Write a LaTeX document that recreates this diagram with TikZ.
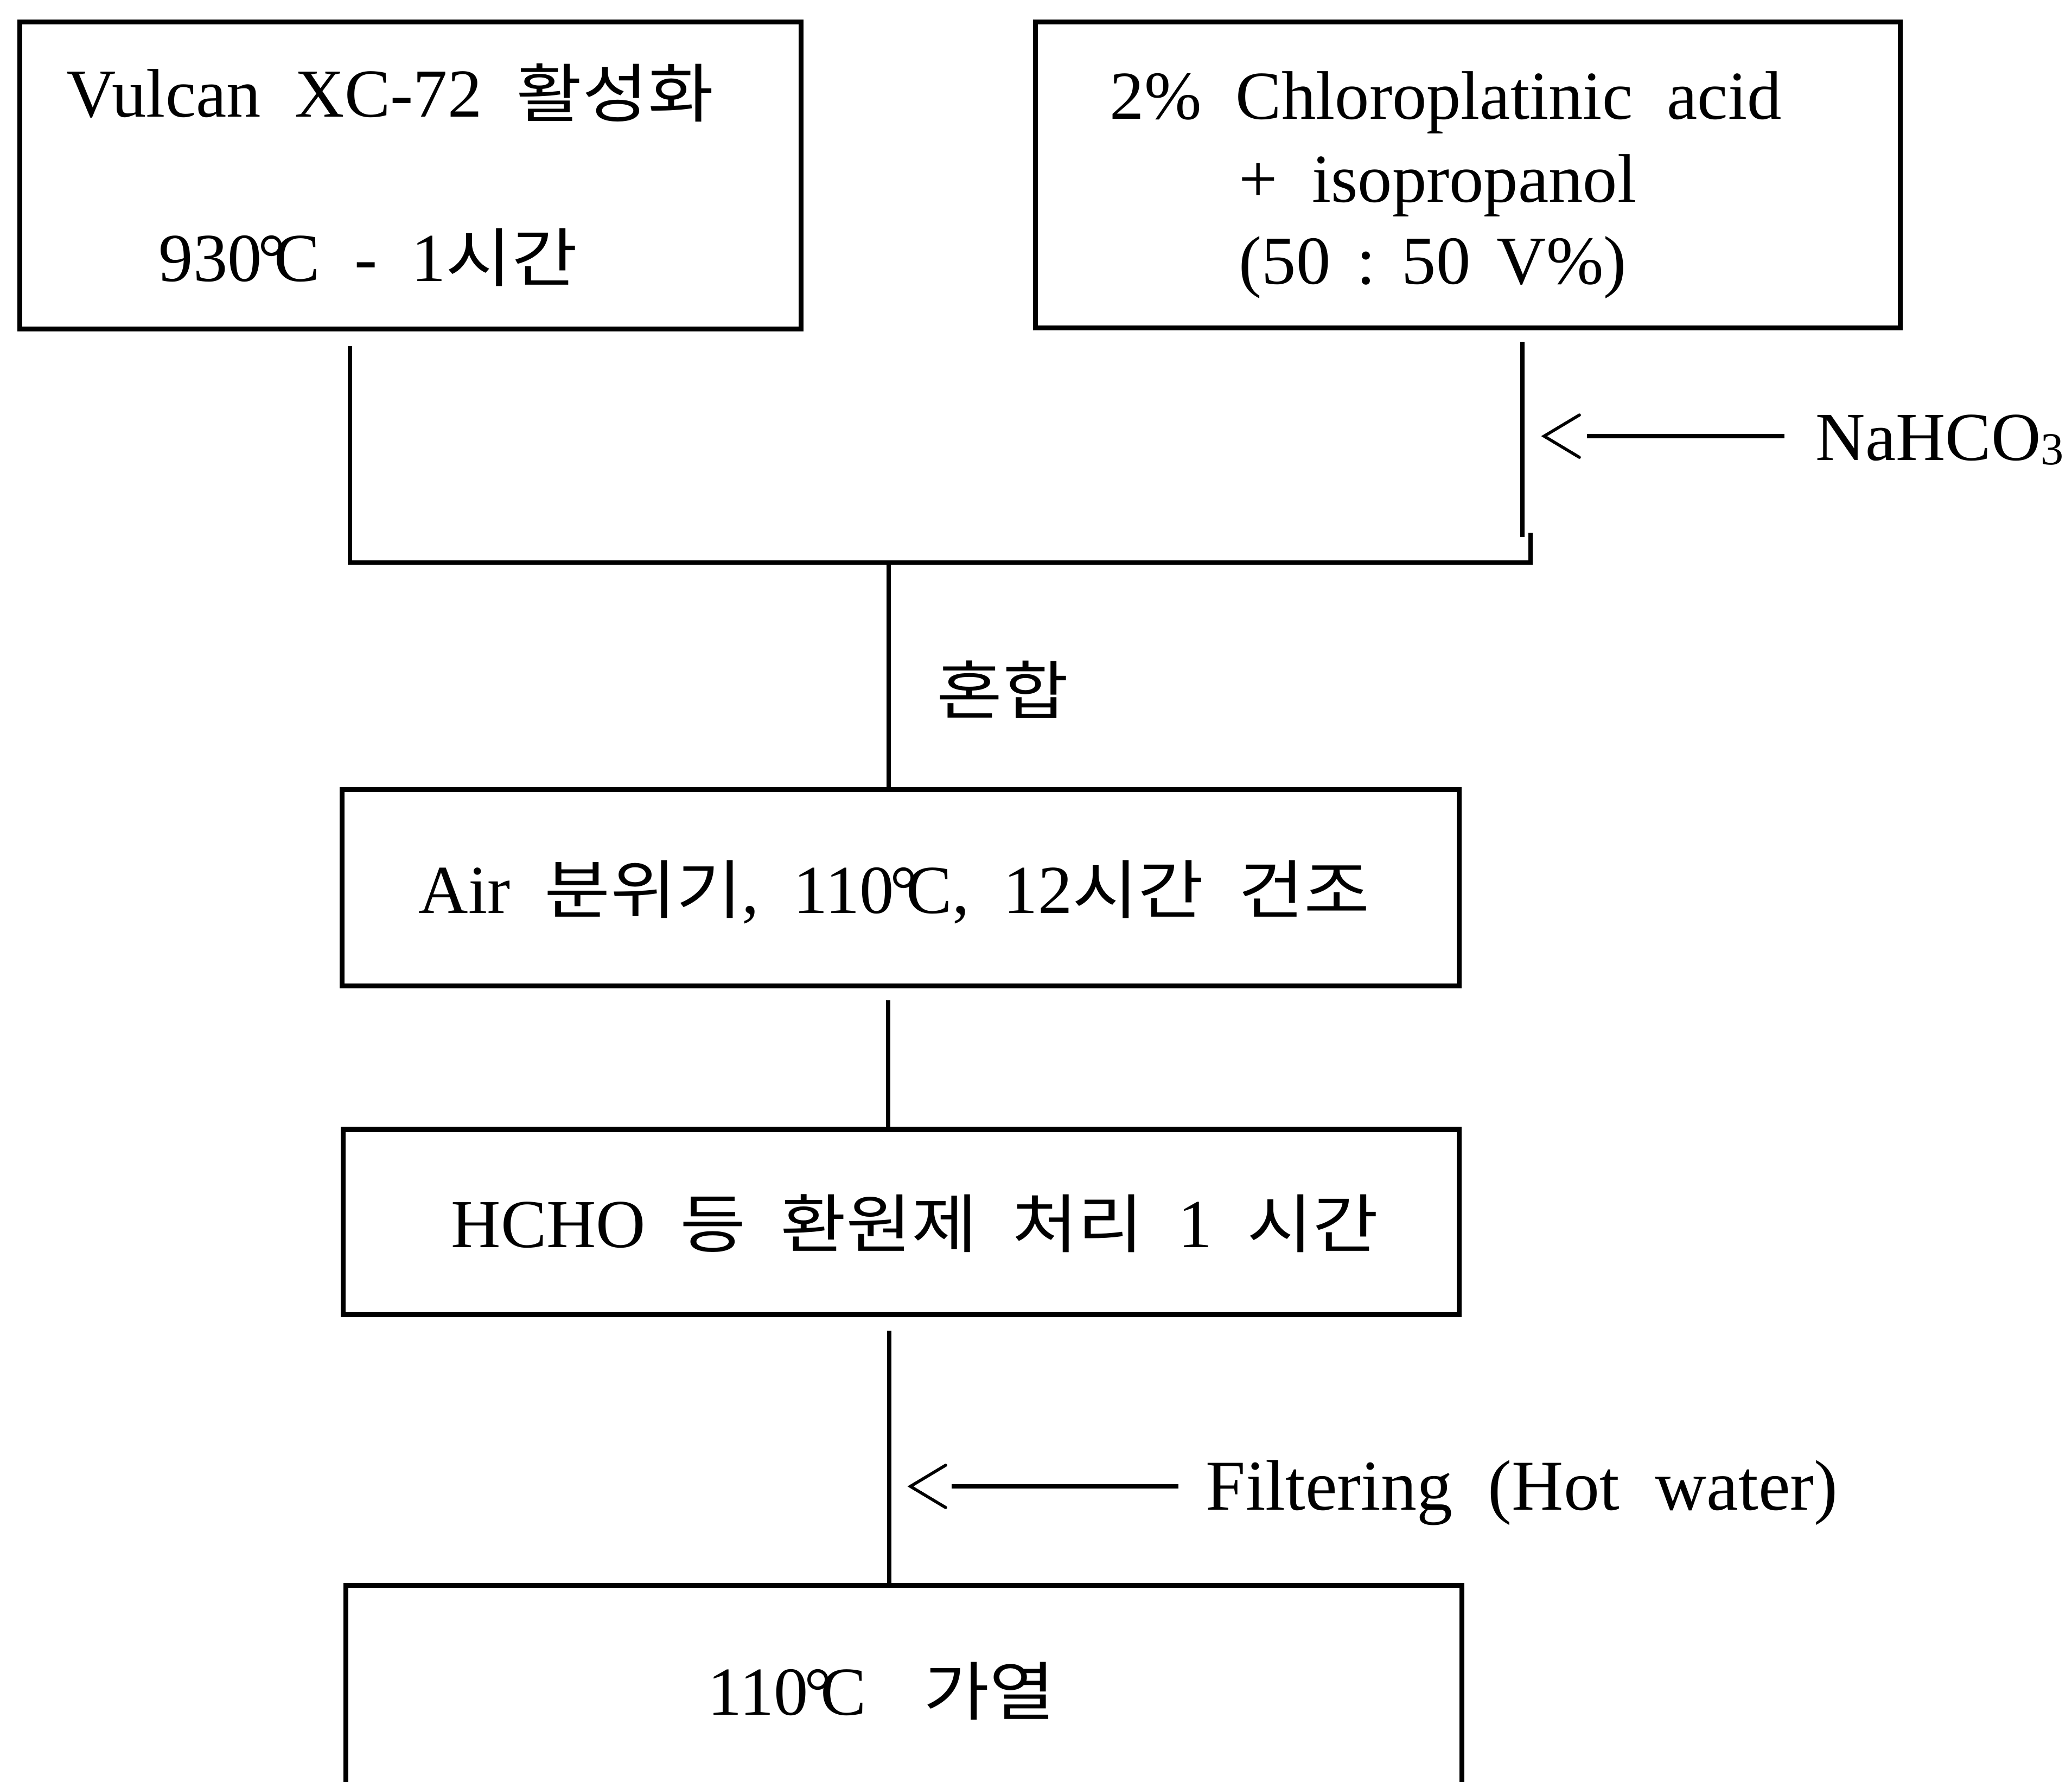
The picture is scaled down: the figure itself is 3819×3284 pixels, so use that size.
\documentclass[tikz,border=0pt]{standalone}
\usepackage{fontspec}
\setmainfont{Liberation Serif}[WordSpace=2]
\newfontfamily\kr{Noto Sans CJK KR}[Scale=0.93,FakeStretch=1.12]
\newcommand\K[1]{{\kr #1}}
\newcommand\degC{\kern-0.06em°\kern-0.16em C}
\newcommand\gap{\hspace{0.38em}}
\begin{document}
\begin{tikzpicture}[x=0.01cm,y=-0.01cm,
  box/.style={draw,line width=2.6pt,inner sep=0pt},
  txt/.style={inner sep=0pt,anchor=base west,font=\fontsize{36}{43}\selectfont},
  link/.style={line width=2.2pt},
  barb/.style={line width=1.6pt,line cap=round},
  shaft/.style={line width=2.4pt}]
\useasboundingbox (0,0) rectangle (3819,3284);
\clip (0,0) rectangle (3819,3284);

% process boxes
\node[box,minimum width=14.39cm,minimum height=5.65cm] (b1) at (756.5,323.5) {};
\node[box,minimum width=15.93cm,minimum height=5.63cm] (b2) at (2705.5,322.5) {};
\node[box,minimum width=20.58cm,minimum height=3.61cm] (b3) at (1660,1636.5) {};
\node[box,minimum width=20.56cm,minimum height=3.41cm] (b4) at (1661,2252.5) {};
\node[box,minimum width=20.56cm,minimum height=5.00cm] (b5) at (1666,3173) {};

% box texts
\node[txt] (t1a) at (122,215) {Vulcan XC-72 \K{활성화}};
\node[txt] (t1b) at (292,518) {930\degC{} - 1\K{시간}};
\node[txt] (t2a) at (2045,219) {2\% Chloroplatinic acid};
\node[txt] (t2b) at (2283,372) {+ isopropanol};
\node[txt] (t2c) at (2283,523) {(50\gap:\gap50\gap V\%)};
\node[txt] (t3) at (771,1683) {Air \K{분위기}, 110\degC, 12\K{시간} \K{건조}};
\node[txt] (t4) at (831,2299) {HCHO \K{등} \K{환원제} \K{처리} 1 \K{시간}};
\node[txt] (t5) at (1304,3161) {110\degC\hspace{1.05cm}\K{가열}};

% side labels
\node[txt,anchor=west] (mix) at (1726,1271) {\K{혼합}};
\node[txt] (na) at (3346,848) {NaHCO\raisebox{-0.08cm}{\fontsize{24}{24}\selectfont 3}};
\node[txt] (filt) at (2222,2783) {\fontsize{37.5}{43}\selectfont Filtering (Hot water)};

% merging lines
\coordinate (s1) at (645,638);
\coordinate (s2) at (2806,630);
\coordinate (s2b) at (2806,990);
\coordinate (s3) at (2821,982);
\coordinate (jL) at (645,1037);
\coordinate (jR) at (2821,1037);
\coordinate (jC) at (1638,1037);
\draw[link] (s1) -- (jL) -- (jR) -- (s3);
\draw[link] (s2) -- (s2b);
\draw[link] (jC) -- (jC |- b3.north);

% flow lines between steps
\coordinate (s4) at (1637,1844);
\coordinate (s5) at (1639,2453);
\draw[link] (s4) -- (s4 |- b4.north);
\draw[link] (s5) -- (s5 |- b5.north);

% reagent inlets
\coordinate (naTip) at (2846,804);
\coordinate (naTail) at (3289,804);
\draw[shaft] (naTail) -- ([xshift=0.79cm]naTip);
\draw[barb] ([xshift=0.65cm,yshift=0.39cm]naTip) -- (naTip) -- ([xshift=0.65cm,yshift=-0.39cm]naTip);

\coordinate (fTip) at (1678,2740);
\coordinate (fTail) at (2172,2740);
\draw[shaft] (fTail) -- ([xshift=0.76cm]fTip);
\draw[barb] ([xshift=0.65cm,yshift=0.39cm]fTip) -- (fTip) -- ([xshift=0.65cm,yshift=-0.39cm]fTip);
\end{tikzpicture}
\end{document}
